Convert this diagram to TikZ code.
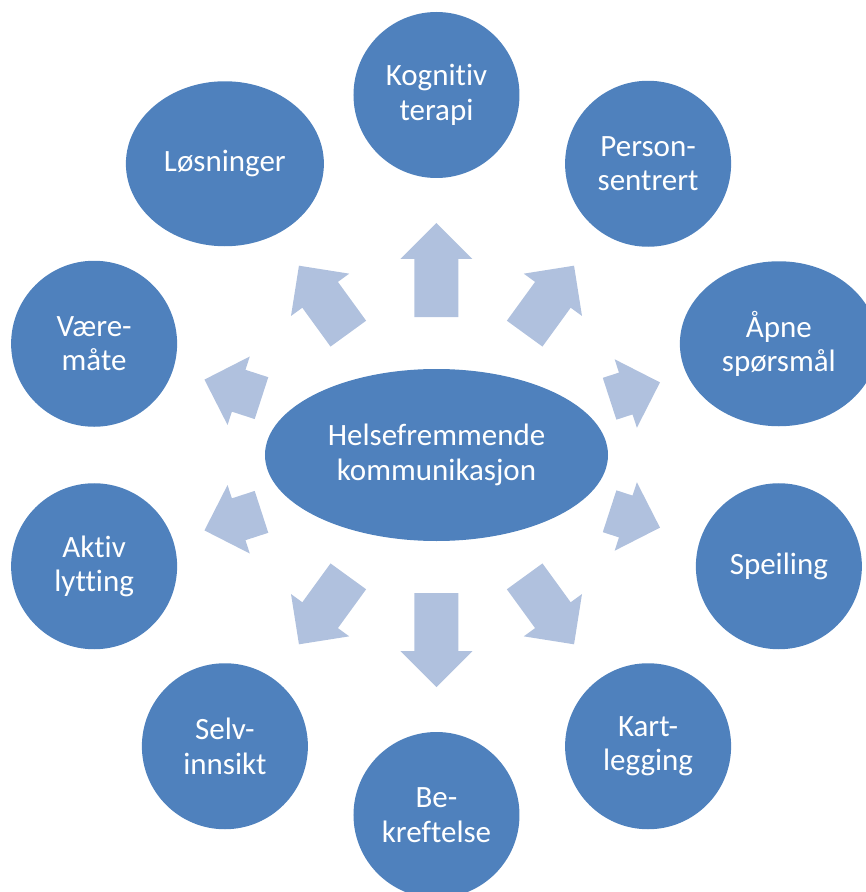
\documentclass[tikz,border=0pt]{standalone}
\usepackage{fontspec}
\setmainfont{Carlito}[Ligatures=NoCommon]
\usepackage{tikz}
\usetikzlibrary{shapes.geometric}
\definecolor{Blue}{HTML}{4F81BD}
\definecolor{LightBlue}{HTML}{B0C1DE}

% block arrow pointing away from the hub: angle, start, tip
\newcommand{\blockarrow}[3]{%
	\fill[LightBlue, shift={(hub)}, rotate=#1]
		(#2,-22) -- ({#3-36},-22) -- ({#3-36},-36) -- (#3,0)
		-- ({#3-36},36) -- ({#3-36},22) -- (#2,22) -- cycle;}

\begin{document}
\begin{tikzpicture}[x=1pt, y=1pt,
	bubble/.style={ellipse, fill=Blue, text=white, inner sep=0pt,
		minimum width=166pt, minimum height=166pt, align=center,
		font=\fontsize{31}{34.5}\selectfont},
	wide/.style={minimum width=198pt, minimum height=165pt}]
	\useasboundingbox (-436.5,-437) rectangle (429.5,455);

	\node[bubble, minimum width=343pt, minimum height=172pt] (hub) at (0,0) {Helsefremmende\\kommunikasjon};

	\node[bubble] (kognitiv) at (90:360) {Kognitiv\\terapi};
	\node[bubble] (person) at (54:360) {Person-\\sentrert};
	\node[bubble, wide] (aapne) at (18:360) {Åpne\\spørsmål};
	\node[bubble] (speiling) at (-18:360) {Speiling};
	\node[bubble] (kart) at (-54:360) {Kart-\\legging};
	\node[bubble] (bekreft) at (-90:360) {Be-\\kreftelse};
	\node[bubble] (selv) at (-126:360) {Selv-\\innsikt};
	\node[bubble] (aktiv) at (-162:360) {Aktiv\\lytting};
	\node[bubble] (vaere) at (162:360) {Være-\\måte};
	\node[bubble, wide] (losning) at (126:360) {Løsninger};

	\blockarrow{90}{138}{232}
	\blockarrow{54}{150}{234}
	\blockarrow{18}{182}{235}
	\blockarrow{-18}{182}{235}
	\blockarrow{-54}{150}{234}
	\blockarrow{-90}{138}{232}
	\blockarrow{-126}{150}{234}
	\blockarrow{-162}{184}{244}
	\blockarrow{162}{184}{244}
	\blockarrow{126}{150}{234}
\end{tikzpicture}
\end{document}
